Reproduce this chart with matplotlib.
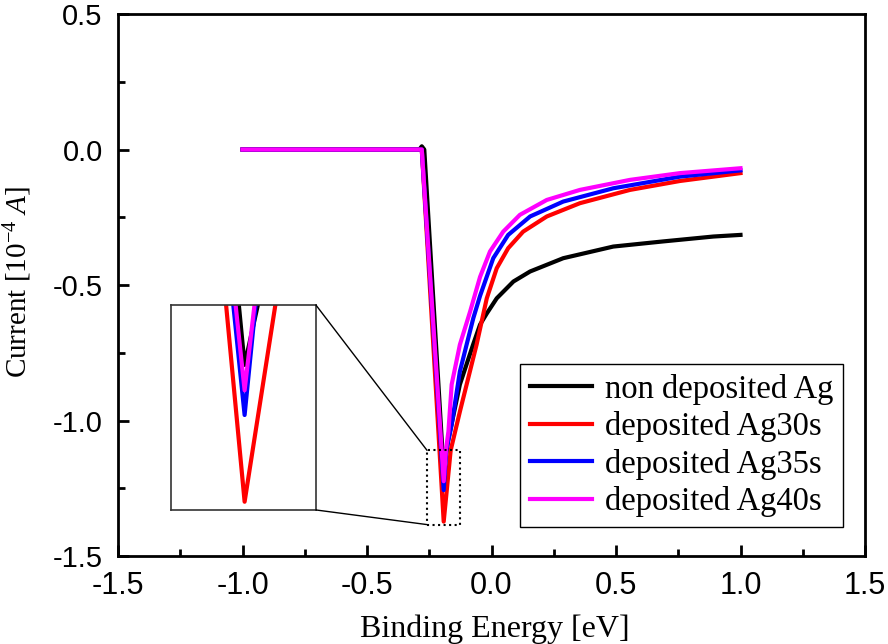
import numpy as np
import matplotlib
matplotlib.use("Agg")
import matplotlib.pyplot as plt
from matplotlib.patches import Rectangle, ConnectionPatch

plt.rcParams['axes.unicode_minus'] = False
plt.rcParams['mathtext.fontset'] = 'custom'
plt.rcParams['mathtext.rm'] = 'Liberation Serif'
plt.rcParams['mathtext.it'] = 'Liberation Serif:style=italic'

# values
x_black = [-1.0, -0.29, -0.28, -0.27, -0.192, -0.175, -0.127, -0.074, -0.046, -0.019,
           0.021, 0.088, 0.155, 0.288, 0.489, 0.69, 0.891, 1.0]
y_black = [0.0, 0.0, 0.012, 0.0, -1.19, -1.077, -0.867, -0.72, -0.646, -0.605,
           -0.549, -0.487, -0.45, -0.401, -0.358, -0.339, -0.321, -0.315]

x_red = [-1.0, -0.28, -0.192, -0.164, -0.127, -0.060, -0.019, 0.021, 0.067, 0.127,
         0.222, 0.355, 0.556, 0.757, 1.0]
y_red = [0.0, 0.0, -1.373, -1.11, -0.967, -0.72, -0.549, -0.438, -0.364, -0.303,
         -0.247, -0.198, -0.149, -0.116, -0.087]

x_blue = [-1.0, -0.28, -0.192, -0.182, -0.16, -0.127, -0.1, -0.073, -0.046, 0.007,
          0.067, 0.155, 0.288, 0.489, 0.757, 1.0]
y_blue = [0.0, 0.0, -1.257, -1.11, -1.016, -0.819, -0.72, -0.622, -0.54, -0.401,
          -0.315, -0.247, -0.192, -0.143, -0.1, -0.077]

x_mag = [-1.0, -0.28, -0.192, -0.183, -0.173, -0.16, -0.127, -0.086, -0.046, -0.006,
         0.047, 0.114, 0.222, 0.355, 0.556, 0.757, 1.0]
y_mag = [0.0, 0.0, -1.224, -1.11, -1.04, -0.867, -0.72, -0.598, -0.47, -0.376,
         -0.303, -0.241, -0.186, -0.149, -0.112, -0.087, -0.069]

labels = ['non deposited Ag', 'deposited Ag30s', 'deposited Ag35s', 'deposited Ag40s']
colors = ['black', '#ff0000', '#0000ff', '#ff00ff']
series = [(x_black, y_black), (x_red, y_red), (x_blue, y_blue), (x_mag, y_mag)]

# zoom window
zx = (-0.259, -0.127)
zy = (-1.384, -1.11)

fig = plt.figure(figsize=(8.88, 6.44), dpi=100)
ax = fig.add_axes([0.1329, 0.1366, 0.8412, 0.8416])

for (xs, ys), c, lab in zip(series, colors, labels):
    ax.plot(xs, ys, color=c, lw=3, label=lab)

ax.set_xlim(-1.5, 1.5)
ax.set_ylim(-1.5, 0.5)
ax.set_xticks(np.arange(-1.5, 1.51, 0.5))
ax.set_yticks(np.arange(-1.5, 0.51, 0.5))
ax.set_xticks(np.arange(-1.25, 1.5, 0.5), minor=True)
ax.set_yticks(np.arange(-1.25, 0.5, 0.5), minor=True)
ax.xaxis.set_major_formatter(plt.FormatStrFormatter('%.1f'))
ax.yaxis.set_major_formatter(plt.FormatStrFormatter('%.1f'))
ax.tick_params(which='both', direction='in', width=2, top=False, right=False)
ax.tick_params(which='major', length=8)
ax.tick_params(which='minor', length=5)
ax.tick_params(axis='x', labelsize=22, pad=11)
ax.tick_params(axis='y', labelsize=21, pad=11)
for t in ax.get_xticklabels() + ax.get_yticklabels():
    t.set_family('Liberation Sans')
for s in ax.spines.values():
    s.set_linewidth(2)

ax.set_xlabel('Binding Energy [eV]', family='Liberation Serif', fontsize=23)
ax.set_ylabel('Current [10$^{-4}$ $\\mathit{A}$]', family='Liberation Serif', fontsize=21)
ax.xaxis.set_label_coords(0.505, -0.107)
ax.yaxis.set_label_coords(-0.113, 0.506)

leg = ax.legend(loc='lower right', bbox_to_anchor=(0.9705, 0.0535), borderaxespad=0,
                fancybox=False, framealpha=1, edgecolor='black', handlelength=1.9,
                labelspacing=0.2, handletextpad=0.4, borderpad=0.3,
                prop={'family': 'Liberation Serif', 'size': 23.5})
leg.get_frame().set_linewidth(1)

# inset
axins = ax.inset_axes([0.071, 0.085, 0.194, 0.378])
for (xs, ys), c in zip(series, colors):
    axins.plot(xs, ys, color=c, lw=3)
axins.set_xlim(*zx)
axins.set_ylim(*zy)
axins.set_xticks([])
axins.set_yticks([])
for s in axins.spines.values():
    s.set_linewidth(1.2)
    s.set_color('#333333')

ax.add_patch(Rectangle((zx[0], zy[0]), zx[1] - zx[0], zy[1] - zy[0], fill=False,
                       ls=':', lw=1.5, ec='black', zorder=5))
for ya, yb in [(1, zy[1]), (0, zy[0])]:
    con = ConnectionPatch(xyA=(1, ya), coordsA=axins.transAxes,
                          xyB=(zx[0], yb), coordsB=ax.transData,
                          color='black', lw=1)
    fig.add_artist(con)

fig.savefig('out.png', dpi=100)
